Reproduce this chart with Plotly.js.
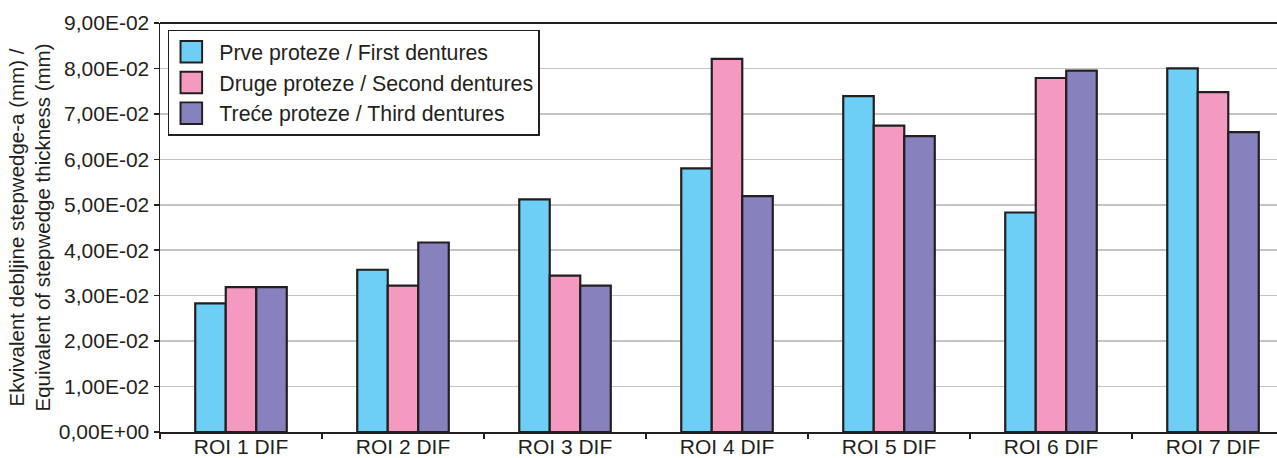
<!DOCTYPE html>
<html>
<head>
<meta charset="utf-8">
<script src="https://cdn.plot.ly/plotly-3.0.1.min.js"></script>
<style>html,body{margin:0;padding:0;background:#fff;}</style>
</head>
<body>
<div id="chart" style="width:1277px;height:458px;"></div>
<script>
const categories = ["ROI 1 DIF","ROI 2 DIF","ROI 3 DIF","ROI 4 DIF","ROI 5 DIF","ROI 6 DIF","ROI 7 DIF"];
const firstDentures  = [0.0283, 0.0357, 0.0512, 0.0580, 0.0739, 0.0483, 0.0800];
const secondDentures = [0.0319, 0.0322, 0.0344, 0.0821, 0.0674, 0.0779, 0.0748];
const thirdDentures  = [0.0319, 0.0417, 0.0322, 0.0519, 0.0651, 0.0795, 0.0660];
const seriesNames = ["Prve proteze / First dentures","Druge proteze / Second dentures","Treće proteze / Third dentures"];
const yTickVals = [0,0.01,0.02,0.03,0.04,0.05,0.06,0.07,0.08,0.09];
const yTickText = ["0,00E+00","1,00E-02","2,00E-02","3,00E-02","4,00E-02","5,00E-02","6,00E-02","7,00E-02","8,00E-02","9,00E-02"];
const yTitle = "Ekvivalent debljine stepwedge-a (mm) /<br>Equivalent of stepwedge thickness (mm)";

const colors = ["#6dcff6","#f49ac1","#8781bd"];
const dark = "#231f20";
const values = [firstDentures, secondDentures, thirdDentures];

const traces = values.map((v,i)=>({
  type:'bar', x:categories, y:v, name:seriesNames[i], legendgroup:'g'+i,
  marker:{color:colors[i], line:{color:dark, width:2.2}},
  hoverinfo:'x+y'
}));

const fam = '"Liberation Sans", Arial, sans-serif';
const font = {family:fam, size:21, color:dark};

const layout = {
  width:1277, height:458,
  margin:{l:160, r:0, t:23, b:26, pad:0},
  paper_bgcolor:'#fff', plot_bgcolor:'#fff',
  font:font,
  barmode:'group', bargap:0.435, bargroupgap:0,
  showlegend:true,
  legend:{x:0.007, y:0.983, xanchor:'left', yanchor:'top',
    bgcolor:'#fff', bordercolor:dark, borderwidth:1.5,
    font:{family:fam, size:21.3, color:dark},
    tracegroupgap:4, itemwidth:40, traceorder:'normal'},
  xaxis:{type:'category', range:[-0.5, 6.395], showline:true, linecolor:dark, linewidth:1.5,
    ticks:'outside', tickson:'boundaries', ticklen:5, tickcolor:dark, tickwidth:1.5,
    ticklabelstandoff:-5,
    tickfont:{family:fam, size:21, color:dark}, showgrid:false, fixedrange:true, automargin:false},
  yaxis:{range:[0,0.09], tickvals:yTickVals, ticktext:yTickText, showline:true, linecolor:dark, linewidth:1.5,
    ticks:'outside', ticklen:5, tickcolor:dark, tickwidth:1.5,
    tickfont:{family:fam, size:21, color:dark},
    showgrid:true, gridcolor:'#c4c4c4', gridwidth:1.5, zeroline:false,
    title:{text:yTitle, font:{family:fam, size:20.5, color:dark}, standoff:2},
    automargin:false},
  shapes:[{type:'line', xref:'paper', yref:'paper', x0:0, x1:1, y0:1, y1:1, line:{color:dark, width:2}}]
};

Plotly.newPlot('chart', traces, layout, {displayModeBar:false, staticPlot:true}).then(()=>{
  document.querySelectorAll('.legend .legendpoints path').forEach(p=>{
    const t = p.getAttribute('transform') || '';
    const m = t.match(/translate\(\s*([-\d.]+)[ ,]+([-\d.]+)\s*\)/);
    const tx = m ? parseFloat(m[1]) - 3 : 17;
    const ty = m ? parseFloat(m[2]) : 0;
    p.setAttribute('transform', 'translate(' + tx + ',' + ty + ') scale(1.8)');
    p.style.strokeWidth = '1.1px';
  });
});
</script>
</body>
</html>
